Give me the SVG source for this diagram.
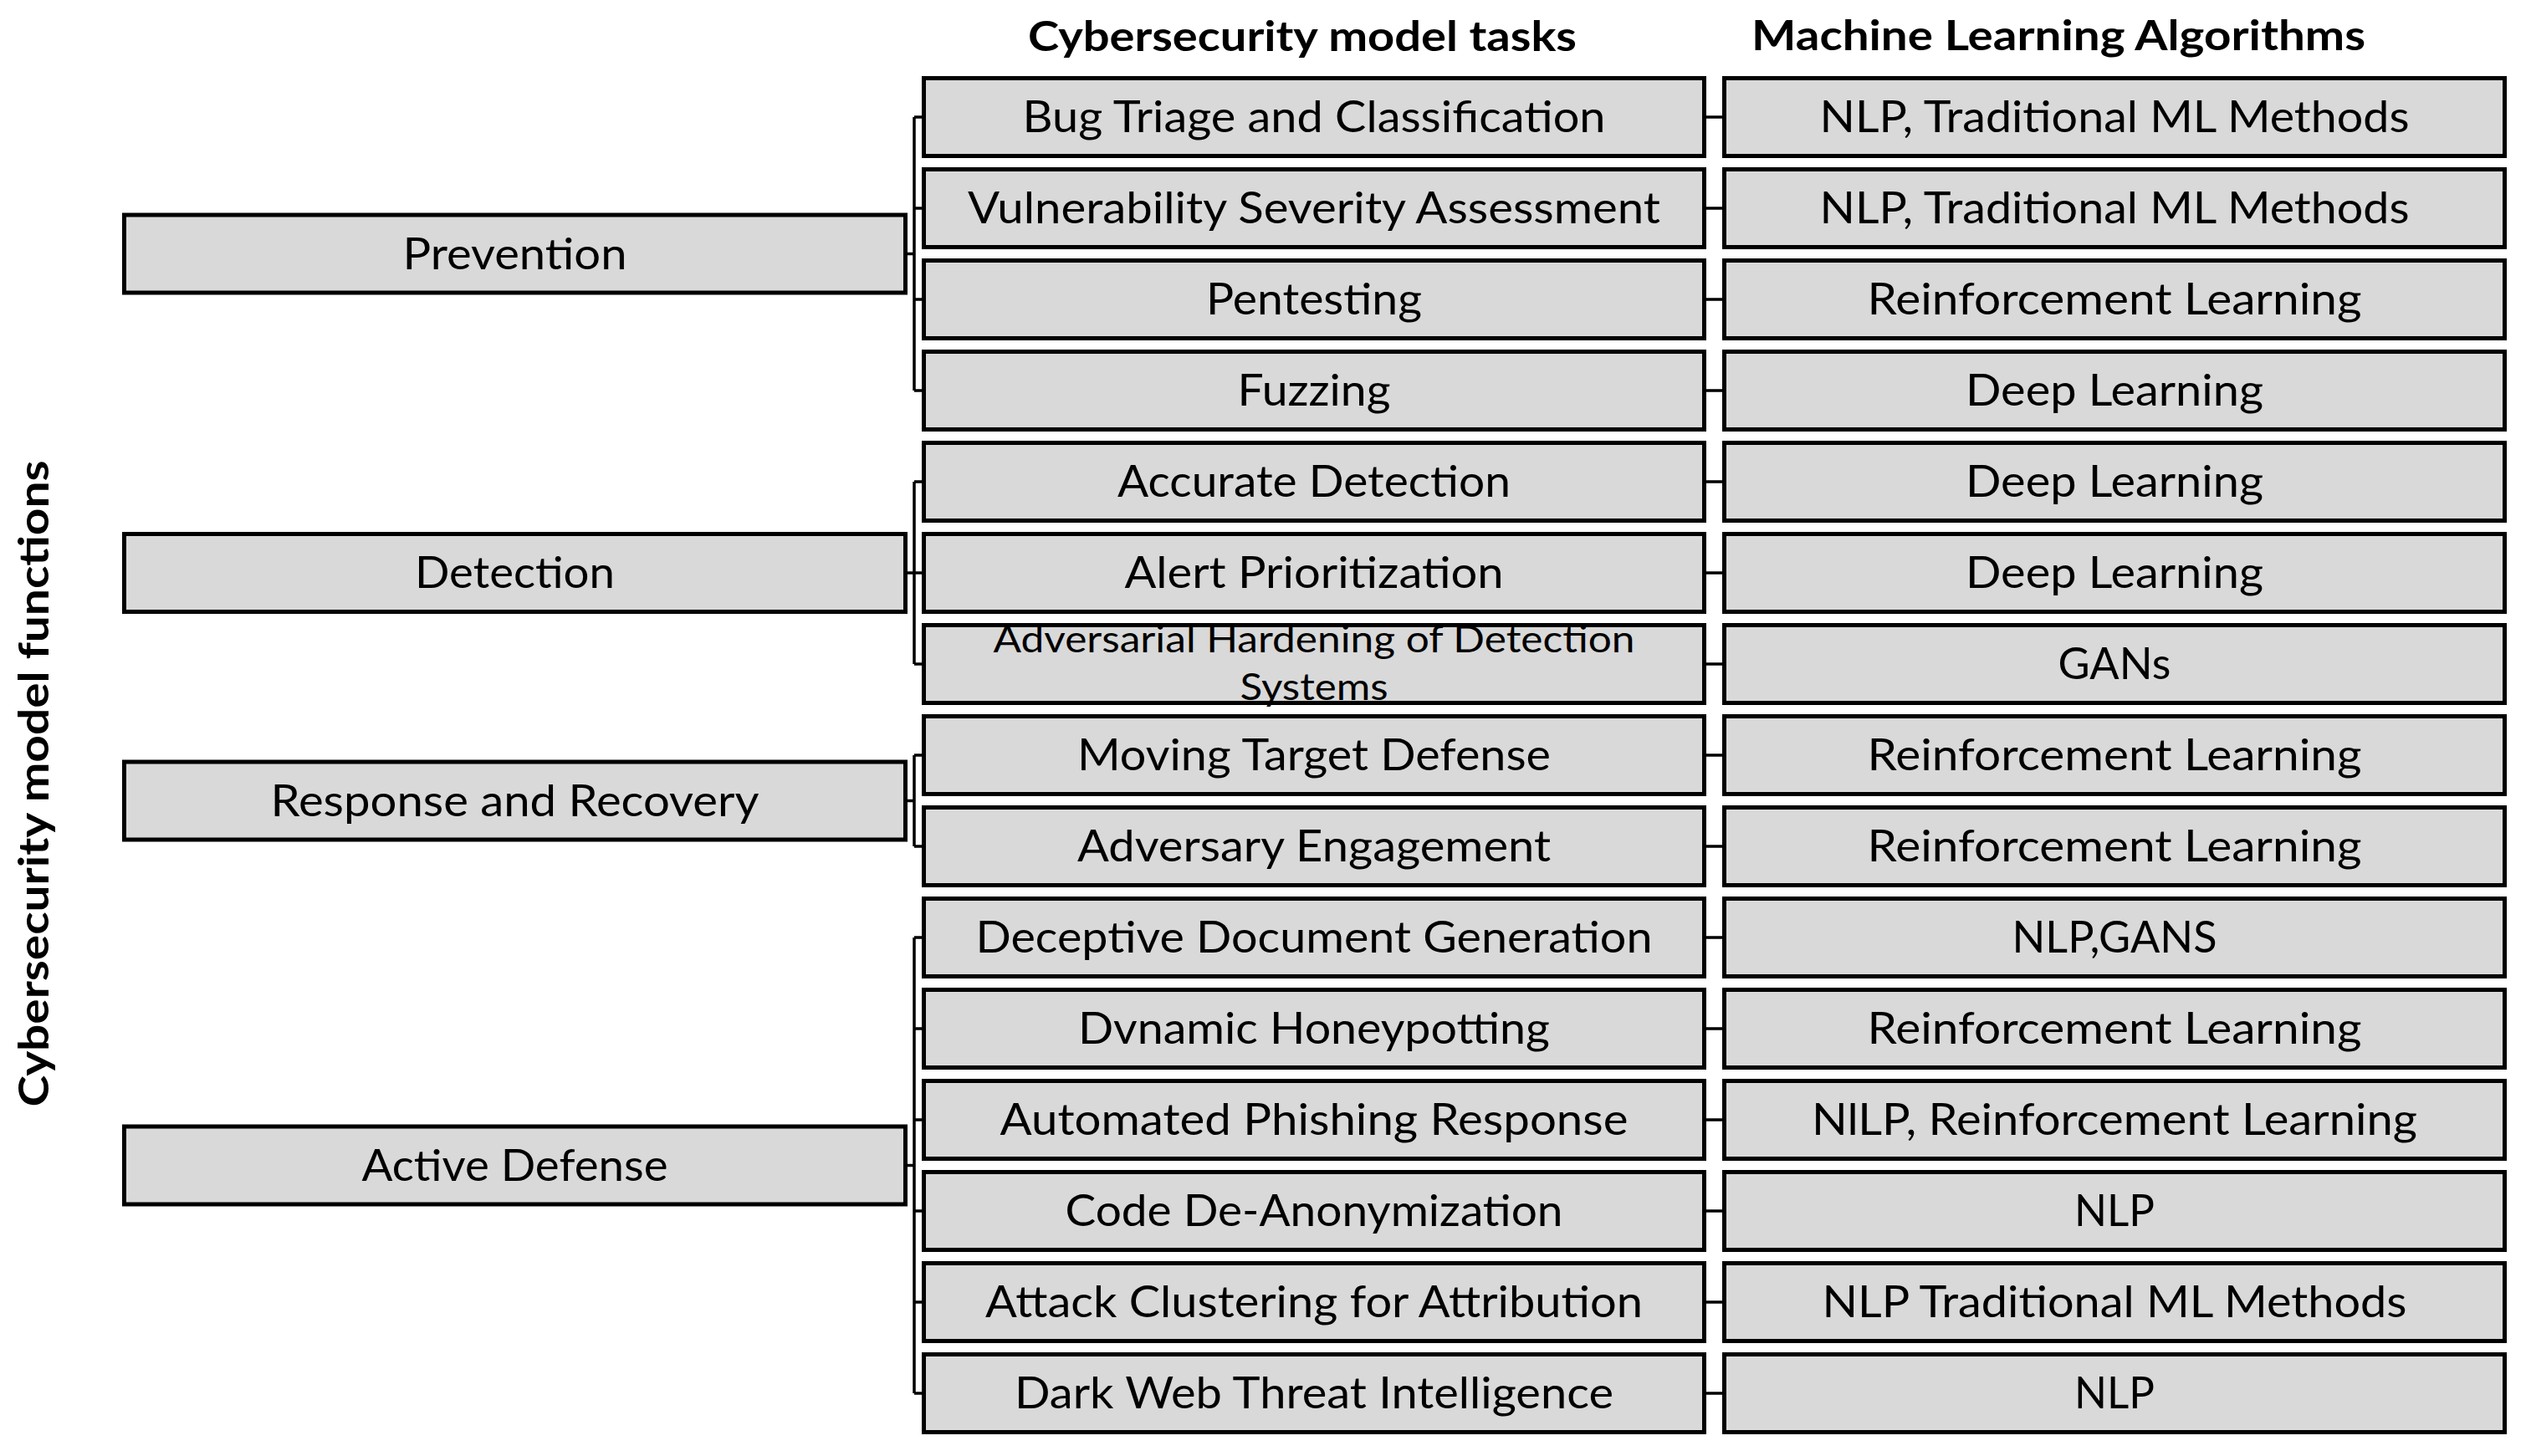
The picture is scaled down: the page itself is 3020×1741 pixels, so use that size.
<svg xmlns="http://www.w3.org/2000/svg" width="3020" height="1741" viewBox="0 0 3020 1741">
<style>
.bx{fill:#d9d9d9;stroke:#000;stroke-width:5}
.t{font-family:Lato,"Open Sans","Liberation Sans",sans-serif;font-size:52px;fill:#000;text-anchor:middle}
.ts{font-family:Lato,"Open Sans","Liberation Sans",sans-serif;font-size:44px;fill:#000;text-anchor:middle}
.h{font-family:Lato,"Open Sans","Liberation Sans",sans-serif;font-size:50px;font-weight:bold;fill:#000;text-anchor:middle}
.c{fill:none;stroke:#000;stroke-width:3.5}
</style>
<rect width="3020" height="1741" fill="#fff"/>
<text class="h" x="1557" y="61" textLength="656" lengthAdjust="spacingAndGlyphs">Cybersecurity model tasks</text>
<text class="h" x="2461" y="60" textLength="734" lengthAdjust="spacingAndGlyphs">Machine Learning Algorithms</text>
<text class="h" transform="translate(58,937) rotate(-90)" x="0" y="0" textLength="773" lengthAdjust="spacingAndGlyphs">Cybersecurity model functions</text>

<g id="connectors">
<path class="c" d="M1085 303.5H1093M1093 140V467M1093 140H1102M1093 249H1102M1093 358H1102M1093 467H1102"/>
<path class="c" d="M1085 685H1093M1093 576V794M1093 576H1102M1093 685H1102M1093 794H1102"/>
<path class="c" d="M1085 957.5H1093M1093 903V1012M1093 903H1102M1093 1012H1102"/>
<path class="c" d="M1085 1393.5H1093M1093 1121V1666M1093 1121H1102M1093 1230H1102M1093 1339H1102M1093 1448H1102M1093 1557H1102M1093 1666H1102"/>
<path class="c" d="M2040 140H2059M2040 249H2059M2040 358H2059M2040 467H2059M2040 576H2059M2040 685H2059M2040 794H2059M2040 903H2059M2040 1012H2059M2040 1121H2059M2040 1230H2059M2040 1339H2059M2040 1448H2059M2040 1557H2059M2040 1666H2059"/>
</g>

<g id="f-prevention"><rect class="bx" x="148.5" y="257" width="934" height="93"/><text class="t" x="615.5" y="321.5" textLength="268" lengthAdjust="spacingAndGlyphs">Prevention</text></g>
<g id="f-detection"><rect class="bx" x="148.5" y="638.5" width="934" height="93"/><text class="t" x="615.5" y="703" textLength="239" lengthAdjust="spacingAndGlyphs">Detection</text></g>
<g id="f-response"><rect class="bx" x="148.5" y="911" width="934" height="93"/><text class="t" x="615.5" y="975.5" textLength="584" lengthAdjust="spacingAndGlyphs">Response and Recovery</text></g>
<g id="f-active"><rect class="bx" x="148.5" y="1347" width="934" height="93"/><text class="t" x="615.5" y="1411.5" textLength="366" lengthAdjust="spacingAndGlyphs">Active Defense</text></g>

<g id="t0"><rect class="bx" x="1104.5" y="93.5" width="933" height="93"/><text class="t" x="1571" y="158" textLength="697" lengthAdjust="spacingAndGlyphs">Bug Triage and Classification</text></g>
<g id="t1"><rect class="bx" x="1104.5" y="202.5" width="933" height="93"/><text class="t" x="1571" y="267" textLength="828" lengthAdjust="spacingAndGlyphs">Vulnerability Severity Assessment</text></g>
<g id="t2"><rect class="bx" x="1104.5" y="311.5" width="933" height="93"/><text class="t" x="1571" y="376" textLength="258" lengthAdjust="spacingAndGlyphs">Pentesting</text></g>
<g id="t3"><rect class="bx" x="1104.5" y="420.5" width="933" height="93"/><text class="t" x="1571" y="485" textLength="183" lengthAdjust="spacingAndGlyphs">Fuzzing</text></g>
<g id="t4"><rect class="bx" x="1104.5" y="529.5" width="933" height="93"/><text class="t" x="1571" y="594" textLength="470" lengthAdjust="spacingAndGlyphs">Accurate Detection</text></g>
<g id="t5"><rect class="bx" x="1104.5" y="638.5" width="933" height="93"/><text class="t" x="1571" y="703" textLength="453" lengthAdjust="spacingAndGlyphs">Alert Prioritization</text></g>
<g id="t6"><rect class="bx" x="1104.5" y="747.5" width="933" height="93"/><text class="ts" x="1571" y="780" textLength="767" lengthAdjust="spacingAndGlyphs">Adversarial Hardening of Detection</text><text class="ts" x="1571" y="837" textLength="177" lengthAdjust="spacingAndGlyphs">Systems</text></g>
<g id="t7"><rect class="bx" x="1104.5" y="856.5" width="933" height="93"/><text class="t" x="1571" y="921" textLength="566" lengthAdjust="spacingAndGlyphs">Moving Target Defense</text></g>
<g id="t8"><rect class="bx" x="1104.5" y="965.5" width="933" height="93"/><text class="t" x="1571" y="1030" textLength="566" lengthAdjust="spacingAndGlyphs">Adversary Engagement</text></g>
<g id="t9"><rect class="bx" x="1104.5" y="1074.5" width="933" height="93"/><text class="t" x="1571" y="1139" textLength="809" lengthAdjust="spacingAndGlyphs">Deceptive Document Generation</text></g>
<g id="t10"><rect class="bx" x="1104.5" y="1183.5" width="933" height="93"/><text class="t" x="1571" y="1248" textLength="564" lengthAdjust="spacingAndGlyphs">Dvnamic Honeypotting</text></g>
<g id="t11"><rect class="bx" x="1104.5" y="1292.5" width="933" height="93"/><text class="t" x="1571" y="1357" textLength="751" lengthAdjust="spacingAndGlyphs">Automated Phishing Response</text></g>
<g id="t12"><rect class="bx" x="1104.5" y="1401.5" width="933" height="93"/><text class="t" x="1571" y="1466" textLength="595" lengthAdjust="spacingAndGlyphs">Code De-Anonymization</text></g>
<g id="t13"><rect class="bx" x="1104.5" y="1510.5" width="933" height="93"/><text class="t" x="1571" y="1575" textLength="786" lengthAdjust="spacingAndGlyphs">Attack Clustering for Attribution</text></g>
<g id="t14"><rect class="bx" x="1104.5" y="1619.5" width="933" height="93"/><text class="t" x="1571" y="1684" textLength="716" lengthAdjust="spacingAndGlyphs">Dark Web Threat Intelligence</text></g>

<g id="m0"><rect class="bx" x="2061.5" y="93.5" width="933" height="93"/><text class="t" x="2528" y="158" textLength="705" lengthAdjust="spacingAndGlyphs">NLP, Traditional ML Methods</text></g>
<g id="m1"><rect class="bx" x="2061.5" y="202.5" width="933" height="93"/><text class="t" x="2528" y="267" textLength="705" lengthAdjust="spacingAndGlyphs">NLP, Traditional ML Methods</text></g>
<g id="m2"><rect class="bx" x="2061.5" y="311.5" width="933" height="93"/><text class="t" x="2528" y="376" textLength="591" lengthAdjust="spacingAndGlyphs">Reinforcement Learning</text></g>
<g id="m3"><rect class="bx" x="2061.5" y="420.5" width="933" height="93"/><text class="t" x="2528" y="485" textLength="356" lengthAdjust="spacingAndGlyphs">Deep Learning</text></g>
<g id="m4"><rect class="bx" x="2061.5" y="529.5" width="933" height="93"/><text class="t" x="2528" y="594" textLength="356" lengthAdjust="spacingAndGlyphs">Deep Learning</text></g>
<g id="m5"><rect class="bx" x="2061.5" y="638.5" width="933" height="93"/><text class="t" x="2528" y="703" textLength="356" lengthAdjust="spacingAndGlyphs">Deep Learning</text></g>
<g id="m6"><rect class="bx" x="2061.5" y="747.5" width="933" height="93"/><text class="t" x="2528" y="812" textLength="135" lengthAdjust="spacingAndGlyphs">GANs</text></g>
<g id="m7"><rect class="bx" x="2061.5" y="856.5" width="933" height="93"/><text class="t" x="2528" y="921" textLength="591" lengthAdjust="spacingAndGlyphs">Reinforcement Learning</text></g>
<g id="m8"><rect class="bx" x="2061.5" y="965.5" width="933" height="93"/><text class="t" x="2528" y="1030" textLength="591" lengthAdjust="spacingAndGlyphs">Reinforcement Learning</text></g>
<g id="m9"><rect class="bx" x="2061.5" y="1074.5" width="933" height="93"/><text class="t" x="2528" y="1139" textLength="245" lengthAdjust="spacingAndGlyphs">NLP,GANS</text></g>
<g id="m10"><rect class="bx" x="2061.5" y="1183.5" width="933" height="93"/><text class="t" x="2528" y="1248" textLength="591" lengthAdjust="spacingAndGlyphs">Reinforcement Learning</text></g>
<g id="m11"><rect class="bx" x="2061.5" y="1292.5" width="933" height="93"/><text class="t" x="2528" y="1357" textLength="724" lengthAdjust="spacingAndGlyphs">NlLP, Reinforcement Learning</text></g>
<g id="m12"><rect class="bx" x="2061.5" y="1401.5" width="933" height="93"/><text class="t" x="2528" y="1466" textLength="96" lengthAdjust="spacingAndGlyphs">NLP</text></g>
<g id="m13"><rect class="bx" x="2061.5" y="1510.5" width="933" height="93"/><text class="t" x="2528" y="1575" textLength="699" lengthAdjust="spacingAndGlyphs">NLP Traditional ML Methods</text></g>
<g id="m14"><rect class="bx" x="2061.5" y="1619.5" width="933" height="93"/><text class="t" x="2528" y="1684" textLength="96" lengthAdjust="spacingAndGlyphs">NLP</text></g>
</svg>
